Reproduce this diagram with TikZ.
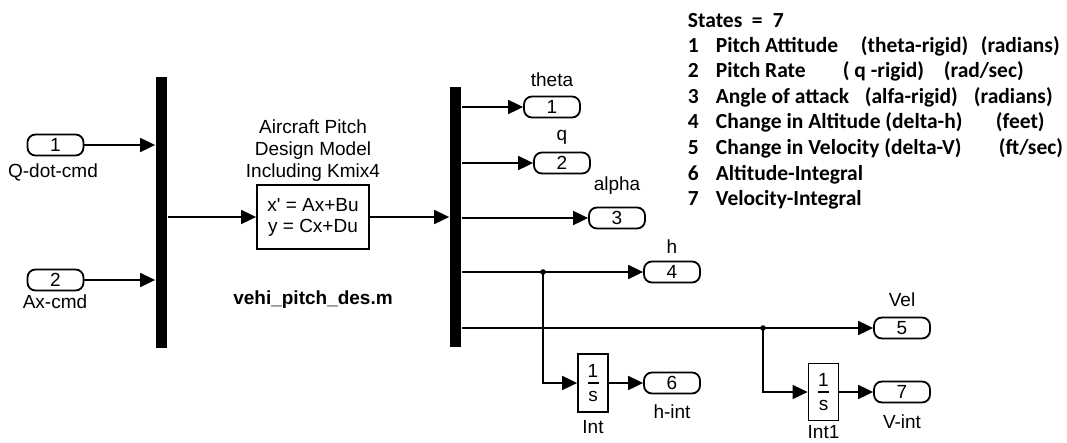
\documentclass[tikz,border=0pt]{standalone}
\usepackage{fontspec}
\setmainfont{Liberation Sans}
\newfontfamily\calib{Carlito}
\usetikzlibrary{arrows.meta}
\begin{document}
\begin{tikzpicture}[x=1pt,y=-1pt,line width=1.8pt,
  port/.style={draw,rounded corners=8pt,minimum width=56pt,minimum height=21pt,inner sep=0pt,font=\fontsize{19}{19}\selectfont},
  sig/.style={-{Triangle[length=15pt,width=14pt]}},
  lbl/.style={font=\fontsize{19}{22}\selectfont,inner sep=0pt,anchor=base},
  bar/.style={fill=black,draw=none,minimum width=11pt,inner sep=0pt},
  blk/.style={draw,inner sep=0pt},
  st/.style={font=\calib\bfseries\fontsize{21.5}{22}\selectfont,inner sep=0pt,anchor=base west}]
\useasboundingbox (0,0) rectangle (1067,442);
% inputs
\node[port] (in1) at (55.5,145) {1};
\node[lbl] (lin1) at (53,177) {Q-dot-cmd};
\node[port] (in2) at (55.5,280) {2};
\node[lbl] (lin2) at (55,308) {Ax-cmd};
\node[bar,minimum height=271pt] (mux) at (161.5,212.5) {};
\draw[sig] (in1.east) -- (in1.east -| mux.west);
\draw[sig] (in2.east) -- (in2.east -| mux.west);
% state space
\node[blk,minimum width=112pt,minimum height=64pt,align=center,font=\fontsize{19}{21}\selectfont] (ss) at (313,217) {x\textquotesingle{} = Ax+Bu\\ y = Cx+Du};
\node[lbl,anchor=south,align=center] (title) at (313,182) {Aircraft Pitch\\Design Model\\Including Kmix4};
\node[lbl,font=\bfseries\fontsize{19}{22}\selectfont] (mfile) at (313,304) {vehi\_pitch\_des.m};
\draw[sig] (mux.east |- ss.west) -- (ss.west);
\node[bar,minimum height=260pt] (demux) at (455.5,217) {};
\draw[sig] (ss.east) -- (ss.east -| demux.west);
% outputs
\node[port] (o1) at (552,107) {1};
\node[lbl] (l1) at (552,86) {theta};
\node[port] (o2) at (562,163) {2};
\node[lbl] (l2) at (562,140) {q};
\node[port] (o3) at (617,218) {3};
\node[lbl] (l3) at (617,190) {alpha};
\node[port] (o4) at (672,272) {4};
\node[lbl] (l4) at (672,253) {h};
\node[port] (o5) at (902,328) {5};
\node[lbl] (l5) at (902,306) {Vel};
\node[port] (o6) at (672,383) {6};
\node[lbl] (l6) at (672,418) {h-int};
\node[port] (o7) at (902,392) {7};
\node[lbl] (l7) at (902,428) {V-int};
\draw[sig] (demux.east |- o1.west) -- (o1.west);
\draw[sig] (demux.east |- o2.west) -- (o2.west);
\draw[sig] (demux.east |- o3.west) -- (o3.west);
\draw[sig] (demux.east |- o4.west) -- (o4.west);
\draw[sig] (demux.east |- o5.west) -- (o5.west);
% integrators
\node[blk,minimum width=30pt,minimum height=58pt] (int) at (593,383) {};
\node[lbl,anchor=center] (int1n) at (593,371) {1};
\node[lbl,anchor=center] (int1d) at (593,396) {s};
\draw[line width=1.5pt] ([xshift=-5.5pt]int.center) -- ([xshift=5.5pt]int.center);
\node[lbl] (lint) at (593,433) {Int};
\node[blk,minimum width=30pt,minimum height=57pt] (intb) at (823.5,392) {};
\node[lbl,anchor=center] (int2n) at (823.5,380) {1};
\node[lbl,anchor=center] (int2d) at (823.5,405) {s};
\draw[line width=1.5pt] ([xshift=-5.5pt]intb.center) -- ([xshift=5.5pt]intb.center);
\node[lbl] (lintb) at (823.5,438.5) {Int1};
\coordinate (j1) at (543,272);
\coordinate (j2) at (763,328);
\fill (j1) circle (2.8pt);
\fill (j2) circle (2.8pt);
\draw[sig] (j1) |- (int.west);
\draw[sig] (int.east) -- (o6.west);
\draw[sig] (j2) |- (intb.west);
\draw[sig] (intb.east) -- (o7.west);
% states list
\node[st] (s0) at (687,27) {States};
\node[st] (s0e) at (751,27) {=};
\node[st] (s0n) at (772,27) {7};
\node[st] (n1) at (687,52) {1};
\node[st] (t1) at (715,52) {Pitch Attitude};
\node[st] (t1b) at (860,52) {(theta-rigid)};
\node[st] (t1c) at (980,52) {(radians)};
\node[st] (n2) at (687,77) {2};
\node[st] (t2) at (715,77) {Pitch Rate};
\node[st] (t2b) at (842,77) {( q -rigid)};
\node[st] (t2c) at (943,77) {(rad/sec)};
\node[st] (n3) at (687,103) {3};
\node[st] (t3) at (715,103) {Angle of attack};
\node[st] (t3b) at (864,103) {(alfa-rigid)};
\node[st] (t3c) at (973,103) {(radians)};
\node[st] (n4) at (687,128) {4};
\node[st] (t4) at (715,128) {Change in Altitude (delta-h)};
\node[st] (t4c) at (995,128) {(feet)};
\node[st] (n5) at (687,154) {5};
\node[st] (t5) at (715,154) {Change in Velocity (delta-V)};
\node[st] (t5c) at (998,154) {(ft/sec)};
\node[st] (n6) at (687,180) {6};
\node[st] (t6) at (715,180) {Altitude-Integral};
\node[st] (n7) at (687,205) {7};
\node[st] (t7) at (715,205) {Velocity-Integral};
\end{tikzpicture}
\end{document}
